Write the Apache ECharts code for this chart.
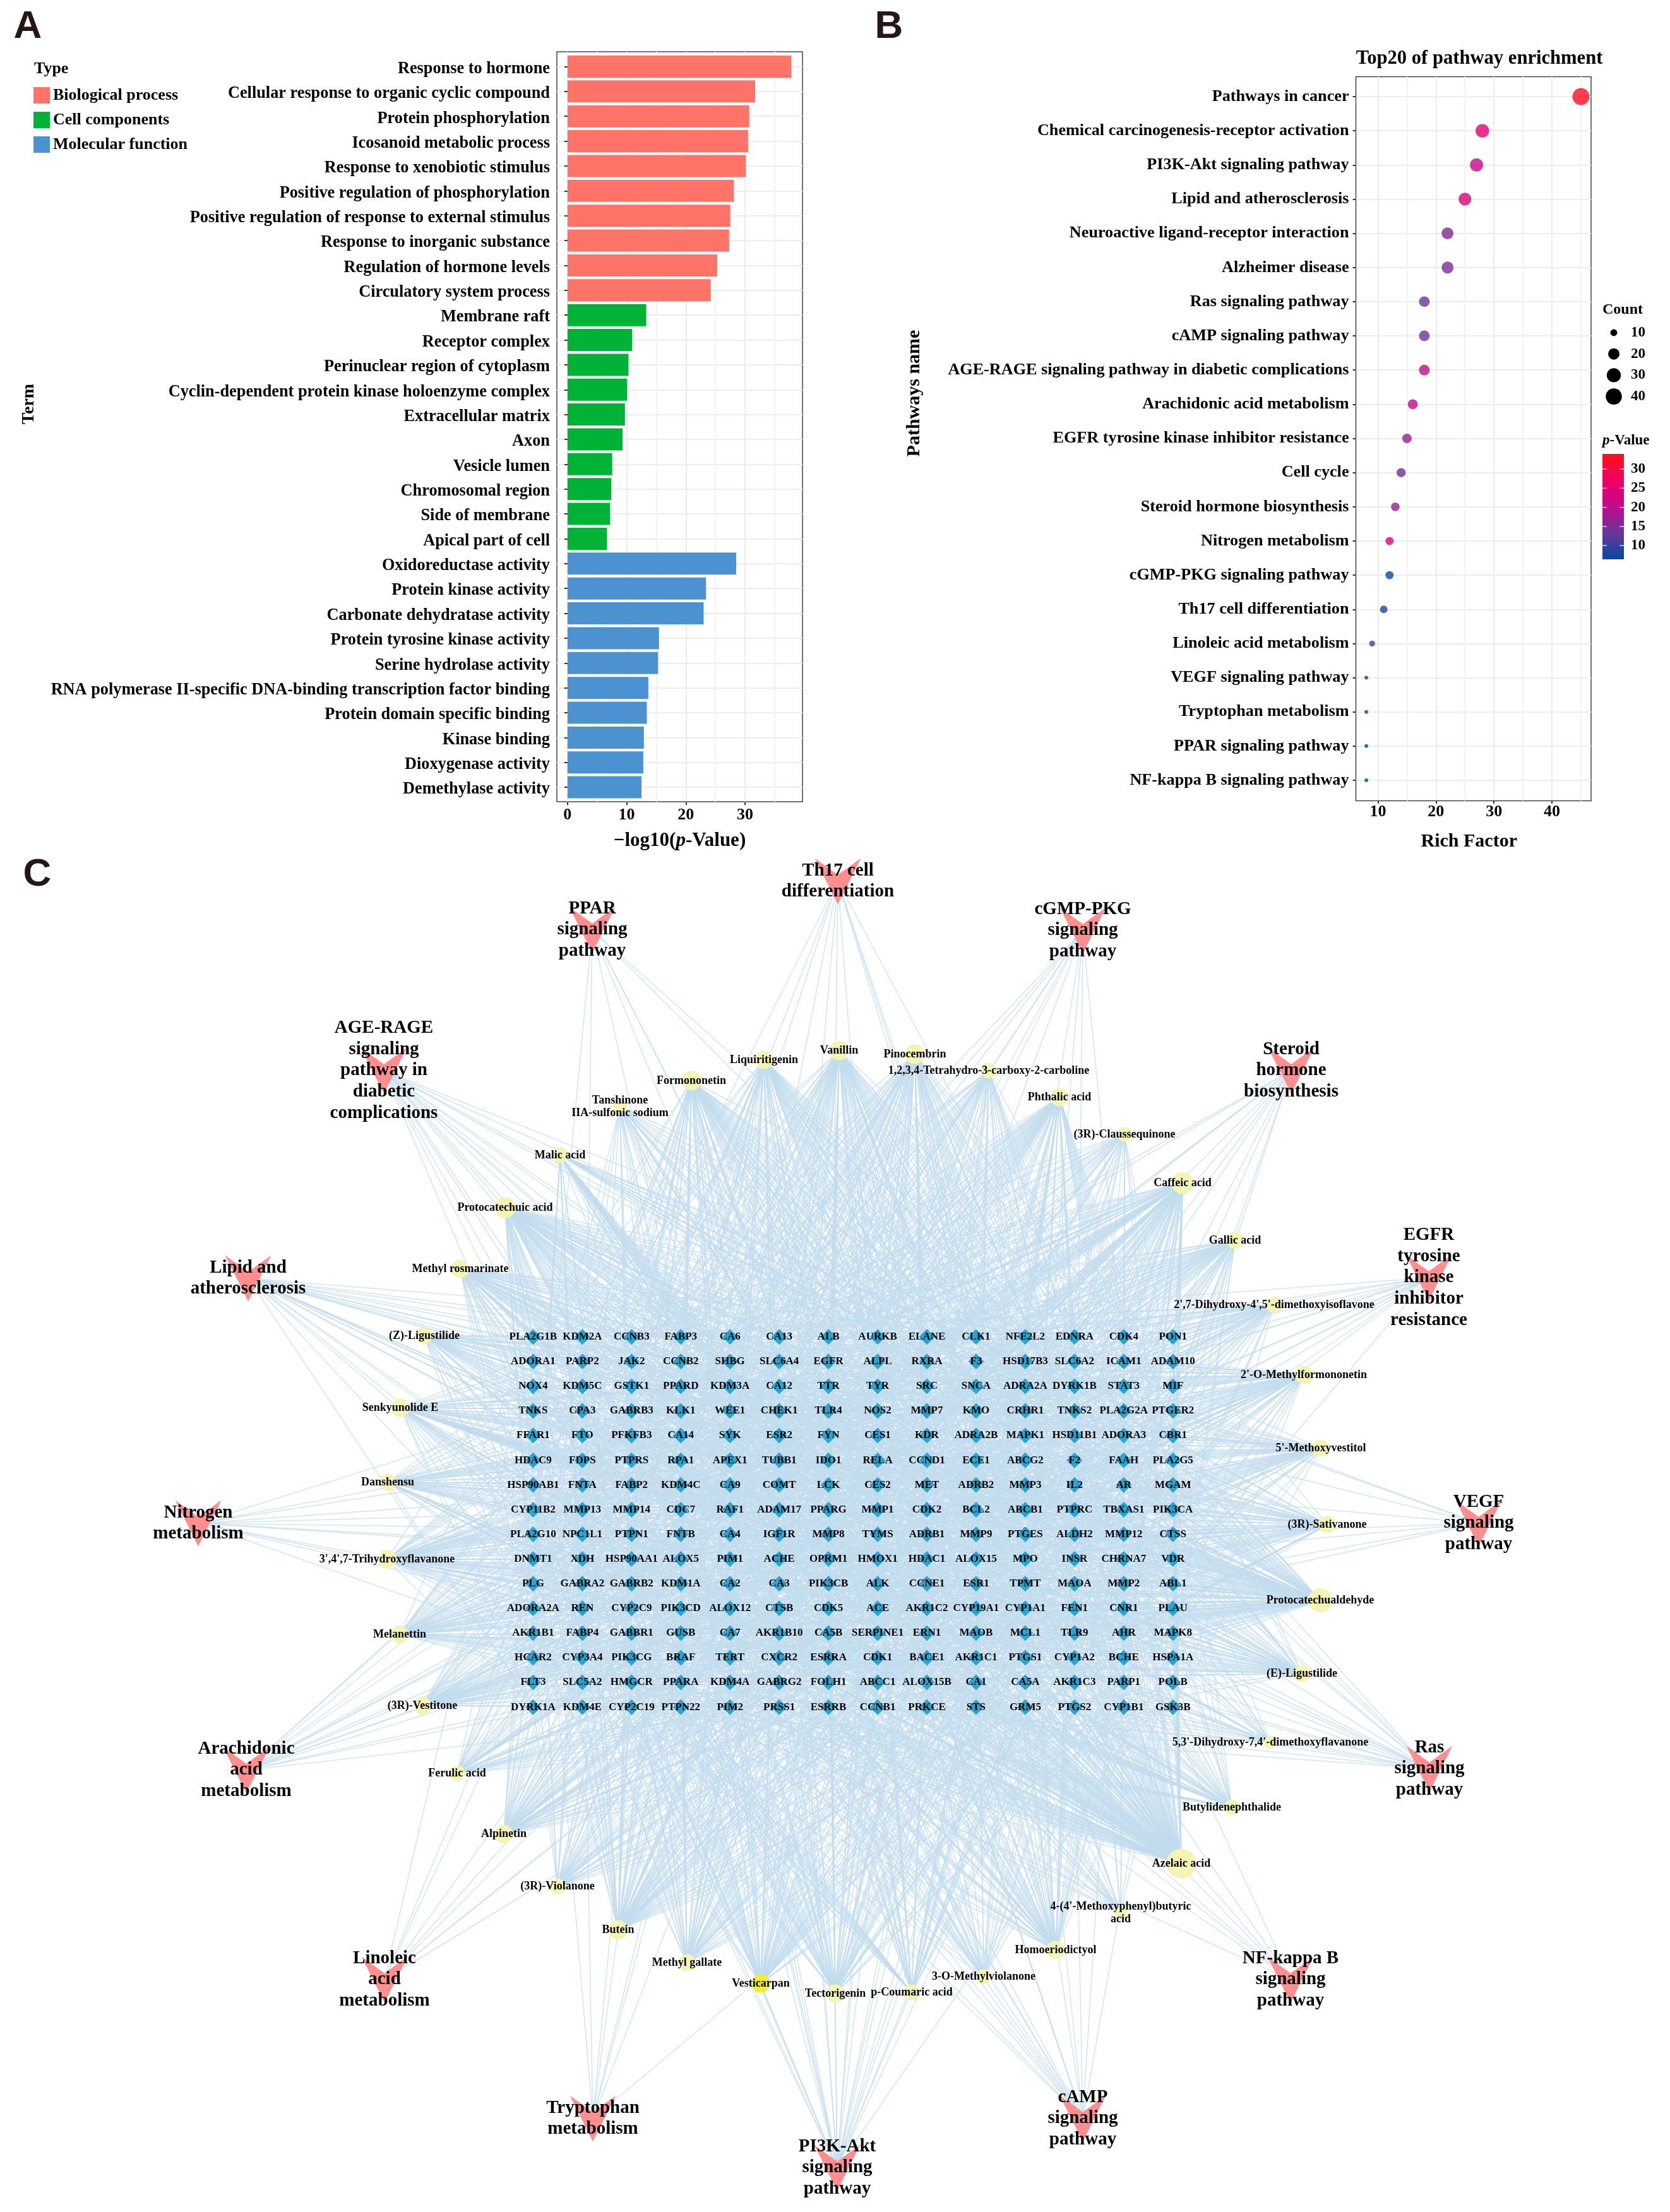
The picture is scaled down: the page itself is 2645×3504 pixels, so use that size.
<!DOCTYPE html>
<html><head><meta charset="utf-8">
<script src="https://cdn.jsdelivr.net/npm/echarts@6/dist/echarts.min.js"></script>
<style>html,body{margin:0;padding:0;background:#fff}#c{width:2645px;height:3504px}</style>
</head><body><div id="c"></div>
<script>
const FONT='"Liberation Serif"';
// Panel A
const bpTerms=["Response to hormone","Cellular response to organic cyclic compound","Protein phosphorylation","Icosanoid metabolic process","Response to xenobiotic stimulus","Positive regulation of phosphorylation","Positive regulation of response to external stimulus","Response to inorganic substance","Regulation of hormone levels","Circulatory system process"];
const bpValues=[37.8,31.7,30.7,30.5,30.1,28.1,27.5,27.3,25.3,24.2];
const ccTerms=["Membrane raft","Receptor complex","Perinuclear region of cytoplasm","Cyclin-dependent protein kinase holoenzyme complex","Extracellular matrix","Axon","Vesicle lumen","Chromosomal region","Side of membrane","Apical part of cell"];
const ccValues=[13.3,10.9,10.3,10.05,9.7,9.3,7.55,7.4,7.2,6.65];
const mfTerms=["Oxidoreductase activity","Protein kinase activity","Carbonate dehydratase activity","Protein tyrosine kinase activity","Serine hydrolase activity","RNA polymerase II-specific DNA-binding transcription factor binding","Protein domain specific binding","Kinase binding","Dioxygenase activity","Demethylase activity"];
const mfValues=[28.5,23.4,23.0,15.45,15.3,13.65,13.4,12.9,12.8,12.5];
const aTicks=[0,10,20,30];
// Panel B
const pathways=["Pathways in cancer","Chemical carcinogenesis-receptor activation","PI3K-Akt signaling pathway","Lipid and atherosclerosis","Neuroactive ligand-receptor interaction","Alzheimer disease","Ras signaling pathway","cAMP signaling pathway","AGE-RAGE signaling pathway in diabetic complications","Arachidonic acid metabolism","EGFR tyrosine kinase inhibitor resistance","Cell cycle","Steroid hormone biosynthesis","Nitrogen metabolism","cGMP-PKG signaling pathway","Th17 cell differentiation","Linoleic acid metabolism","VEGF signaling pathway","Tryptophan metabolism","PPAR signaling pathway","NF-kappa B signaling pathway"];
const richFactor=[45,28,27,25,22,22,18,18,18,16,15,14,13,12,12,11,9,8,8,8,8];
const pValue=[33,25,21,23,15,15,13,14,21,21,17,13,17,24,7,9,13,7,9,6.5,6.5];
const bTicks=[10,20,30,40];
const countLegend=[10,20,30,40];
const pLegend=[30,25,20,15,10];
// Panel C targets
const targetRows=[
["PLA2G1B","KDM2A","CCNB3","FABP3","CA6","CA13","ALB","AURKB","ELANE","CLK1","NFE2L2","EDNRA","CDK4","PON1"],
["ADORA1","PARP2","JAK2","CCNB2","SHBG","SLC6A4","EGFR","ALPL","RXRA","F3","HSD17B3","SLC6A2","ICAM1","ADAM10"],
["NOX4","KDM5C","GSTK1","PPARD","KDM3A","CA12","TTR","TYR","SRC","SNCA","ADRA2A","DYRK1B","STAT3","MIF"],
["TNKS","CPA3","GABRB3","KLK1","WEE1","CHEK1","TLR4","NOS2","MMP7","KMO","CRHR1","TNKS2","PLA2G2A","PTGER2"],
["FFAR1","FTO","PFKFB3","CA14","SYK","ESR2","FYN","CES1","KDR","ADRA2B","MAPK1","HSD11B1","ADORA3","CBR1"],
["HDAC9","FDPS","PTPRS","RPA1","APEX1","TUBB1","IDO1","RELA","CCND1","ECE1","ABCG2","F2","FAAH","PLA2G5"],
["HSP90AB1","FNTA","FABP2","KDM4C","CA9","COMT","LCK","CES2","MET","ADRB2","MMP3","IL2","AR","MGAM"],
["CYP11B2","MMP13","MMP14","CDC7","RAF1","ADAM17","PPARG","MMP1","CDK2","BCL2","ABCB1","PTPRC","TBXAS1","PIK3CA"],
["PLA2G10","NPC1L1","PTPN1","FNTB","CA4","IGF1R","MMP8","TYMS","ADRB1","MMP9","PTGES","ALDH2","MMP12","CTSS"],
["DNMT1","XDH","HSP90AA1","ALOX5","PIM1","ACHE","OPRM1","HMOX1","HDAC1","ALOX15","MPO","INSR","CHRNA7","VDR"],
["PLG","GABRA2","GABRB2","KDM1A","CA2","CA3","PIK3CB","ALK","CCNE1","ESR1","TPMT","MAOA","MMP2","ABL1"],
["ADORA2A","REN","CYP2C9","PIK3CD","ALOX12","CTSB","CDK5","ACE","AKR1C2","CYP19A1","CYP1A1","FEN1","CNR1","PLAU"],
["AKR1B1","FABP4","GABBR1","GUSB","CA7","AKR1B10","CA5B","SERPINE1","ERN1","MAOB","MCL1","TLR9","AHR","MAPK8"],
["HCAR2","CYP3A4","PIK3CG","BRAF","TERT","CXCR2","ESRRA","CDK1","BACE1","AKR1C1","PTGS1","CYP1A2","BCHE","HSPA1A"],
["FLT3","SLC5A2","HMGCR","PPARA","KDM4A","GABRG2","FOLH1","ABCC1","ALOX15B","CA1","CA5A","AKR1C3","PARP1","POLB"],
["DYRK1A","KDM4E","CYP2C19","PTPN22","PIM2","PRSS1","ESRRB","CCNB1","PRKCE","STS","GRM5","PTGS2","CYP1B1","GSK3B"]];
// Panel C compounds: name, node place on the hidden axes, estimated number of links (read from node size)
const compoundNames=["Formononetin","Liquiritigenin","Vanillin","Pinocembrin","1,2,3,4-Tetrahydro-3-carboxy-2-carboline","Phthalic acid","(3R)-Claussequinone","Caffeic acid","Gallic acid","2',7-Dihydroxy-4',5'-dimethoxyisoflavone","2'-O-Methylformononetin","5'-Methoxyvestitol","(3R)-Sativanone","Protocatechualdehyde","(E)-Ligustilide","5,3'-Dihydroxy-7,4'-dimethoxyflavanone","Butylidenephthalide","Azelaic acid","4-(4'-Methoxyphenyl)butyric\nacid","Homoeriodictyol","3-O-Methylviolanone","p-Coumaric acid","Tectorigenin","Vesticarpan","Methyl gallate","Butein","(3R)-Violanone","Alpinetin","Ferulic acid","(3R)-Vestitone","Melanettin","3',4',7-Trihydroxyflavanone","Danshensu","Senkyunolide E","(Z)-Ligustilide","Methyl rosmarinate","Protocatechuic acid","Malic acid","Tanshinone\nIIA-sulfonic sodium"];
const compoundX=[1095,1210,1329,1449,1566,1678,1781,1873,1956,2018,2065,2092,2102,2091,2062,2012,1951,1871,1775,1672,1558,1444,1323,1205,1088,979,883,798,724,669,633,613,614,634,672,729,800,887,982];
const compoundY=[1712,1679,1664,1670,1696,1738,1797,1874,1965,2067,2178,2294,2415,2535,2651,2760,2863,2952,3030,3089,3131,3156,3158,3142,3109,3057,2988,2905,2809,2702,2589,2470,2348,2230,2116,2010,1913,1830,1753];
const compoundLinks=[84,72,84,84,48,72,36,108,60,54,72,60,60,126,60,24,48,180,24,72,36,48,72,72,60,84,48,72,48,66,66,78,54,72,54,72,96,48,36];
// Panel C pathways: name in panel B, wrapped label, node place on the hidden axes
const netPathways=["Th17 cell differentiation","PPAR signaling pathway","cGMP-PKG signaling pathway","AGE-RAGE signaling pathway in diabetic complications","Steroid hormone biosynthesis","EGFR tyrosine kinase inhibitor resistance","Lipid and atherosclerosis","VEGF signaling pathway","Nitrogen metabolism","Ras signaling pathway","Arachidonic acid metabolism","NF-kappa B signaling pathway","Linoleic acid metabolism","cAMP signaling pathway","Tryptophan metabolism","PI3K-Akt signaling pathway"];
const netLabels=["Th17 cell\ndifferentiation","PPAR\nsignaling\npathway","cGMP-PKG\nsignaling\npathway","AGE-RAGE\nsignaling\npathway in\ndiabetic\ncomplications","Steroid\nhormone\nbiosynthesis","EGFR\ntyrosine\nkinase\ninhibitor\nresistance","Lipid and\natherosclerosis","VEGF\nsignaling\npathway","Nitrogen\nmetabolism","Ras\nsignaling\npathway","Arachidonic\nacid\nmetabolism","NF-kappa B\nsignaling\npathway","Linoleic\nacid\nmetabolism","cAMP\nsignaling\npathway","Tryptophan\nmetabolism","PI3K-Akt\nsignaling\npathway"];
const netX=[1327,938,1715,608,2045,2263,393,2342,314,2264,390,2044,609,1715,939,1326];
const netY=[1396,1473,1474,1696,1696,2024,2025,2413,2413,2802,2804,3136,3136,3356,3356,3434];

const allTerms=bpTerms.concat(ccTerms,mfTerms);
const pad=(vals,before,after)=>Array(before).fill(null).concat(vals,Array(after).fill(null));
const dotSize=c=>6+21*Math.sqrt(Math.max(0,c-8)/37);
const LBL={fontFamily:FONT,fontWeight:'bold',color:'#000'};

const GA={left:882,width:389,frameTop:82,frameH:1188,top:85.8,height:1181};
const GB={left:2147.5,width:372.5,frameTop:121.5,frameH:1147,top:125.9,height:1137.2};
const aMin=-1.8,aMax=39.7,bMin=6.2,bMax=46.75;
const off={show:false};
const blankY=i=>({gridIndex:i,type:'value',min:0,max:1,axisLine:off,axisTick:off,axisLabel:off,splitLine:off});
const gridLines=['#ececec','#f3f3f3'];

// Panel C nodes and links
const targets=targetRows.flat();
const nodes=[];
targets.forEach((name,i)=>{
  const col=i%14,row=Math.floor(i/14);
  nodes.push({name,value:[844.4+77.95*col,2117.7+39.1*row],symbol:'diamond',symbolSize:25,
    itemStyle:{color:'#2BA5CF'},label:{fontSize:17,lineHeight:19}});
});
compoundNames.forEach((name,i)=>{
  const bright=name==='Vesticarpan';
  nodes.push({name,value:[compoundX[i],compoundY[i]],symbol:'circle',symbolSize:17+compoundLinks[i]/6,
    itemStyle:{color:bright?'#F2EE2A':'#F4F4B4'},label:{fontSize:18,lineHeight:20}});
});
netPathways.forEach((name,i)=>{
  nodes.push({name:netLabels[i],value:[netX[i],netY[i]],symbol:'path://M0 0 L50 36 L100 0 L50 100 Z',symbolSize:73,
    itemStyle:{color:'#FF8F8F'},label:{fontSize:29,lineHeight:33.7}});
});
// Which target each node links to cannot be read from the picture: the link COUNTS come from
// compoundLinks and richFactor, the partners are an illustrative even spread over the targets.
const links=[];
const strides=[139,85,51,173,101,65,187,117];
const spread=(source,count,seed)=>{
  const st=strides[seed%strides.length];
  for(let k=0;k<count;k++)links.push({source,target:targets[(seed*37+k*st)%targets.length]});
};
compoundNames.forEach((n,i)=>spread(n,compoundLinks[i],i));
netPathways.forEach((n,i)=>spread(netLabels[i],richFactor[pathways.indexOf(n)],i+3));

// Legends drawn beside the plots
const gfx=[];
const txt=(text,x,y,size,o={})=>gfx.push(Object.assign({type:'text',x,y,silent:true,style:{text,fill:o.fill||'#000',font:`${o.style||''} ${o.weight||'bold'} ${size}px ${o.family||FONT}`,textAlign:o.align||'left',textVerticalAlign:'middle'}},o.rot?{rotation:o.rot}:{}));
txt('A',44,43,62,{family:'"Liberation Sans"',align:'center',fill:'#231815'});
txt('B',1408,43,62,{family:'"Liberation Sans"',align:'center',fill:'#231815'});
txt('C',59,1386,62,{family:'"Liberation Sans"',align:'center',fill:'#231815'});
txt('Type',54,109,26);
txt('Term',46,640,28,{align:'center',rot:Math.PI/2});
txt('Pathways name',1448,623,30,{align:'center',rot:Math.PI/2});
txt('Top20 of pathway enrichment',2343,93,30.6,{align:'center'});
txt('Count',2538,491,24);
countLegend.forEach((c,i)=>{
  const y=527+33.7*i;
  gfx.push({type:'circle',silent:true,shape:{cx:2556,cy:y,r:dotSize(c)/2},style:{fill:'#000'}});
  txt(String(c),2583,y,23);
});
gfx.push({type:'text',x:2538,y:698,silent:true,style:{text:'{i|p}-Value',textVerticalAlign:'middle',font:`bold 23px ${FONT}`,fill:'#000',rich:{i:{font:`italic bold 23px ${FONT}`,fill:'#000'}}}});
const barLeft=2538,barW=34,barTop=719,barH=167,vmMin=6.41,vmMax=33.97;
const pColors=['#004AA5','#6A3596','#C00A90','#F00060','#FF1018'];
gfx.push({type:'rect',silent:true,z:150,shape:{x:barLeft,y:barTop,width:barW,height:barH},style:{fill:{type:'linear',x:0,y:1,x2:0,y2:0,
  colorStops:pColors.map((c,i)=>({offset:i/(pColors.length-1),color:c}))}}});
pLegend.forEach(v=>{
  const y=barTop+(vmMax-v)/(vmMax-vmMin)*barH;
  gfx.push({type:'line',silent:true,z:200,shape:{x1:barLeft,y1:y,x2:barLeft+7,y2:y},style:{stroke:'rgba(255,255,255,.75)',lineWidth:1.5}});
  gfx.push({type:'line',silent:true,z:200,shape:{x1:barLeft+barW-7,y1:y,x2:barLeft+barW,y2:y},style:{stroke:'rgba(255,255,255,.75)',lineWidth:1.5}});
  txt(String(v),2583,y,23);
});

const chart=echarts.init(document.getElementById('c'),null,{renderer:'canvas',width:2645,height:3504});
chart.setOption({
  animation:false,backgroundColor:'#fff',
  legend:{left:53,top:138,padding:0,orient:'vertical',itemWidth:26,itemHeight:26,itemGap:13,selectedMode:false,
    data:['Biological process','Cell components','Molecular function'],
    textStyle:{fontFamily:FONT,fontWeight:'bold',fontSize:26,color:'#000'},icon:'rect'},
  grid:[
    {left:GA.left,width:GA.width,top:GA.frameTop,height:GA.frameH,show:true,borderColor:'#444',borderWidth:1.5,backgroundColor:'transparent'},
    {left:GA.left,width:GA.width,top:GA.top,height:GA.height},
    {left:GB.left,width:GB.width,top:GB.frameTop,height:GB.frameH,show:true,borderColor:'#444',borderWidth:1.5,backgroundColor:'transparent'},
    {left:GB.left,width:GB.width,top:GB.top,height:GB.height},
    {left:0,top:0,width:2645,height:3504}
  ],
  xAxis:[
    {gridIndex:0,type:'value',min:aMin,max:aMax,axisLine:off,axisLabel:off,
      axisTick:{show:false,customValues:[0,5,10,15,20,25,30,35]},splitLine:{show:true,lineStyle:{color:gridLines,width:2}}},
    {gridIndex:1,type:'value',min:aMin,max:aMax,offset:3.5,axisLine:off,splitLine:off,
      axisTick:{show:true,length:5,customValues:aTicks,lineStyle:{color:'#333',width:2}},
      axisLabel:{show:true,customValues:aTicks,margin:8,fontSize:26,...LBL},
      name:'\u2212log10({i|p}-Value)',nameLocation:'middle',nameGap:46,
      nameTextStyle:{fontSize:31,...LBL,rich:{i:{fontSize:31,fontStyle:'italic',...LBL}}}},
    {gridIndex:2,type:'value',min:bMin,max:bMax,axisLine:off,axisLabel:off,
      axisTick:{show:false,customValues:[10,15,20,25,30,35,40,45]},splitLine:{show:true,lineStyle:{color:gridLines,width:2}}},
    {gridIndex:3,type:'value',min:bMin,max:bMax,offset:5,axisLine:off,splitLine:off,
      axisTick:{show:true,length:5,customValues:bTicks,lineStyle:{color:'#333',width:2}},
      axisLabel:{show:true,customValues:bTicks,margin:5,fontSize:26,...LBL},
      name:'Rich Factor',nameLocation:'middle',nameGap:50,nameTextStyle:{fontSize:30,padding:[0,14,0,0],...LBL}},
    {gridIndex:4,type:'value',min:0,max:2645,axisLine:off,axisTick:off,axisLabel:off,splitLine:off}
  ],
  yAxis:[
    blankY(0),
    {gridIndex:1,type:'category',inverse:true,data:allTerms,axisLine:off,
      axisTick:{show:true,length:5,alignWithLabel:true,lineStyle:{color:'#333',width:2}},
      axisLabel:{interval:0,margin:11,formatter:v=>`{a|${v}}`,
        rich:{a:{fontSize:26.3,padding:[7,0,0,0],...LBL}}},
      splitLine:{show:true,alignWithLabel:true,interval:0,lineStyle:{color:'#ececec',width:2}}},
    blankY(2),
    {gridIndex:3,type:'category',inverse:true,data:pathways,axisLine:off,
      axisTick:{show:true,length:5,alignWithLabel:true,lineStyle:{color:'#333',width:2}},
      axisLabel:{interval:0,margin:11,fontSize:26.2,...LBL},
      splitLine:{show:true,alignWithLabel:true,interval:0,lineStyle:{color:'#ececec',width:2}}},
    {gridIndex:4,type:'value',inverse:true,min:0,max:3504,axisLine:off,axisTick:off,axisLabel:off,splitLine:off}
  ],
  visualMap:{type:'continuous',show:false,seriesIndex:3,dimension:2,min:vmMin,max:vmMax,inRange:{color:pColors}},
  series:[
    {type:'bar',name:'Biological process',xAxisIndex:1,yAxisIndex:1,barWidth:35,barGap:'-100%',itemStyle:{color:'#FF7369'},data:pad(bpValues,0,20)},
    {type:'bar',name:'Cell components',xAxisIndex:1,yAxisIndex:1,barWidth:35,barGap:'-100%',itemStyle:{color:'#00B236'},data:pad(ccValues,10,10)},
    {type:'bar',name:'Molecular function',xAxisIndex:1,yAxisIndex:1,barWidth:35,barGap:'-100%',itemStyle:{color:'#4C92D0'},data:pad(mfValues,20,0)},
    {type:'scatter',xAxisIndex:3,yAxisIndex:3,symbolSize:v=>dotSize(v[0]),data:richFactor.map((r,i)=>[r,i,pValue[i]])},
    {type:'graph',coordinateSystem:'cartesian2d',xAxisIndex:4,yAxisIndex:4,layout:'none',silent:true,roam:false,
      emphasis:{disabled:true},
      label:{show:true,position:'inside',formatter:p=>p.name,fontFamily:FONT,fontWeight:'bold',color:'#000',align:'center',verticalAlign:'middle'},
      lineStyle:{color:'#C2DCEE',width:1.5,opacity:0.75,curveness:0},
      data:nodes,links}
  ],
  graphic:{elements:gfx}
});
</script></body></html>
